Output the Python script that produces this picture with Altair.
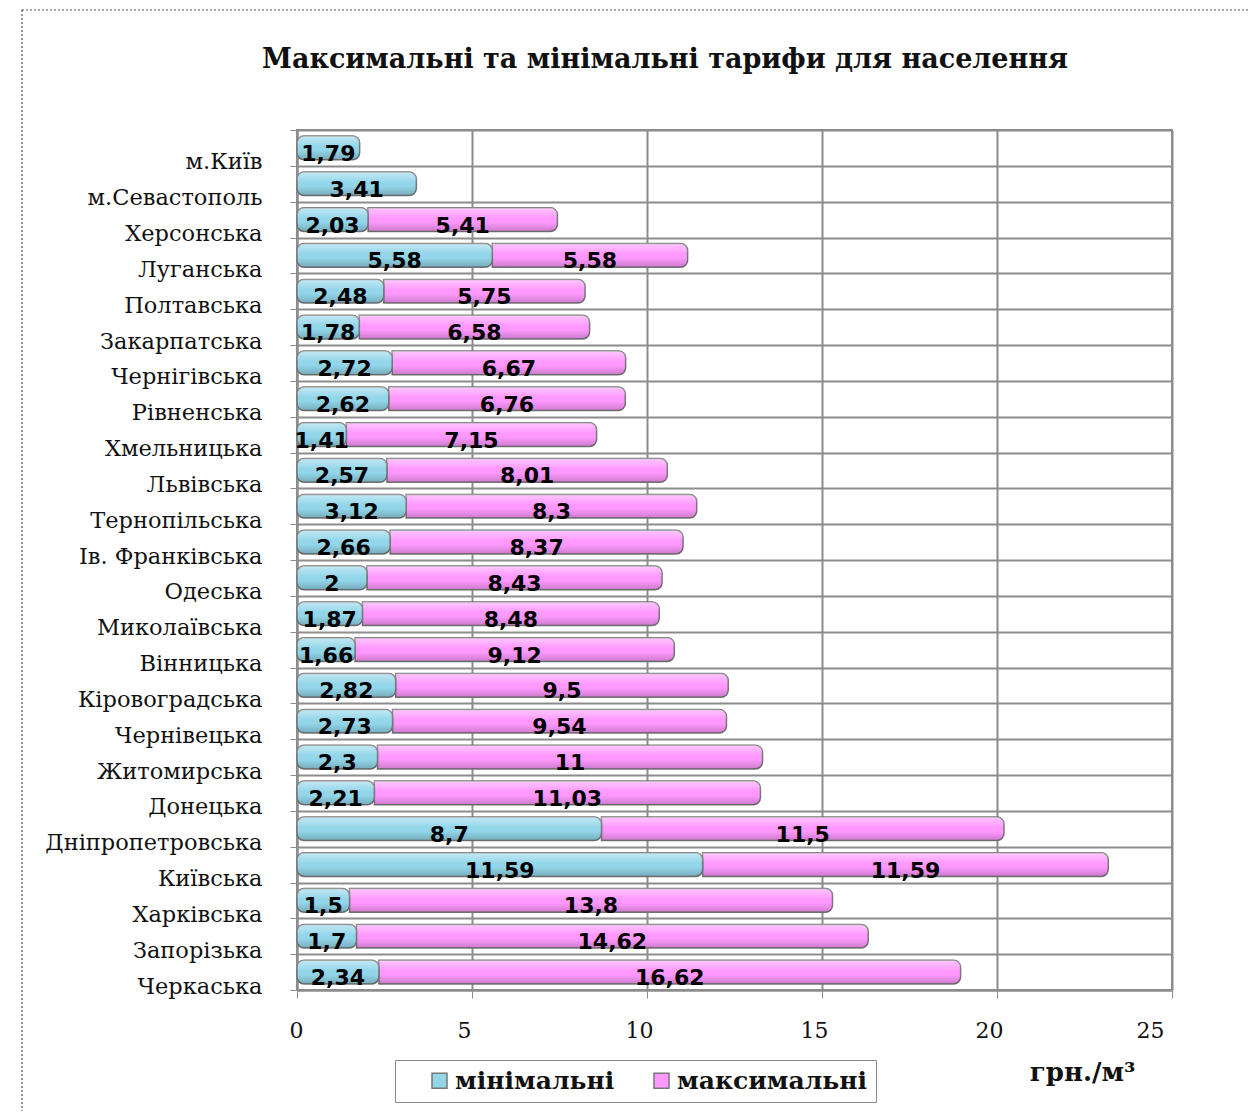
import altair as alt
import pandas as pd

regions = ["м.Київ", "м.Севастополь", "Херсонська", "Луганська", "Полтавська",
           "Закарпатська", "Чернігівська", "Рівненська", "Хмельницька", "Львівська",
           "Тернопільська", "Ів. Франківська", "Одеська", "Миколаївська", "Вінницька",
           "Кіровоградська", "Чернівецька", "Житомирська", "Донецька",
           "Дніпропетровська", "Київська", "Харківська", "Запорізька", "Черкаська"]
min_vals = [1.79, 3.41, 2.03, 5.58, 2.48, 1.78, 2.72, 2.62, 1.41, 2.57, 3.12, 2.66,
            2.0, 1.87, 1.66, 2.82, 2.73, 2.3, 2.21, 8.7, 11.59, 1.5, 1.7, 2.34]
max_vals = [None, None, 5.41, 5.58, 5.75, 6.58, 6.67, 6.76, 7.15, 8.01, 8.3, 8.37,
            8.43, 8.48, 9.12, 9.5, 9.54, 11.0, 11.03, 11.5, 11.59, 13.8, 14.62, 16.62]
x_ticks = [0, 5, 10, 15, 20, 25]
series = ["мінімальні", "максимальні"]
colors = ["#93D6EA", "#FF99FF"]
title_text = "Максимальні та мінімальні тарифи для населення"


def fmt(v):
    return f"{v:g}".replace(".", ",")


rows = []
for r, mn, mx in zip(regions, min_vals, max_vals):
    rows.append(dict(region=r, series=series[0], start=0.0, end=mn, label=fmt(mn)))
    if mx is not None:
        rows.append(dict(region=r, series=series[1], start=mn, end=mn + mx, label=fmt(mx)))
df = pd.DataFrame(rows)
df["mid"] = (df["start"] + df["end"]) / 2

W, H = 875, 860
GRAY = "#8c8c8c"
BAND = 0.66
R = 7

y_enc = alt.Y(
    "region:N", sort=regions,
    scale=alt.Scale(paddingInner=0, paddingOuter=0),
    axis=alt.Axis(title=None, grid=True, tickBand="extent", gridColor=GRAY, gridWidth=2,
                  domainColor=GRAY, domainWidth=2, tickColor=GRAY, tickSize=7,
                  labelOffset=14, labelPadding=28, labelFont="DejaVu Serif",
                  labelFontSize=22.5, labelColor="#111", labelLimit=400),
)
x_enc = alt.X(
    "start:Q", scale=alt.Scale(domain=[0, 25], nice=False),
    axis=alt.Axis(values=x_ticks, grid=True, gridColor=GRAY, gridWidth=2,
                  domainColor=GRAY, domainWidth=2, tickColor=GRAY, tickSize=8,
                  labelPadding=22, labelFont="DejaVu Serif", labelFontSize=22,
                  labelColor="#111", labelOffset=-8,
                  title="грн./м³", titleFont="DejaVu Serif", titleFontSize=26,
                  titleFontWeight="bold", titleColor="#111",
                  titleX=838, titleY=82, titleAlign="right", titleBaseline="middle"),
)
color_enc = alt.Color(
    "series:N", scale=alt.Scale(domain=series, range=colors),
    legend=alt.Legend(title=None, orient="none", legendX=98, legendY=930,
                      direction="horizontal", strokeColor="#888",
                      fillColor="white", padding=8, symbolOffset=24, labelOffset=3,
                      labelFont="DejaVu Serif", labelFontWeight="bold",
                      labelFontSize=25, labelColor="#111",
                      symbolType="square", symbolSize=225,
                      symbolStrokeColor="#777", symbolStrokeWidth=1.5,
                      columnPadding=10, labelLimit=300))

shade_fill = alt.LinearGradient(gradient="linear", x1=0, y1=0, x2=0, y2=1, stops=[
    alt.GradientStop(color="rgba(255,255,255,0.45)", offset=0),
    alt.GradientStop(color="rgba(255,255,255,0.0)", offset=0.45),
    alt.GradientStop(color="rgba(0,0,0,0.0)", offset=0.6),
    alt.GradientStop(color="rgba(0,0,0,0.2)", offset=1),
])

base = alt.Chart(df)
max_bars = base.transform_filter(alt.datum.series == series[1]).mark_bar(
    height={"band": BAND}, stroke="#777777", strokeWidth=1.5,
    cornerRadiusTopRight=R, cornerRadiusBottomRight=R).encode(
    y=y_enc, x=x_enc, x2="end:Q", color=color_enc)
max_shade = base.transform_filter(alt.datum.series == series[1]).mark_bar(
    height={"band": BAND}, fill=shade_fill,
    cornerRadiusTopRight=R, cornerRadiusBottomRight=R).encode(
    y=alt.Y("region:N", sort=regions), x="start:Q", x2="end:Q")
min_bars = base.transform_filter(alt.datum.series == series[0]).mark_bar(
    height={"band": BAND}, stroke="#777777", strokeWidth=1.5, cornerRadius=R).encode(
    y=alt.Y("region:N", sort=regions), x="start:Q", x2="end:Q", color=color_enc)
min_shade = base.transform_filter(alt.datum.series == series[0]).mark_bar(
    height={"band": BAND}, fill=shade_fill, cornerRadius=R).encode(
    y=alt.Y("region:N", sort=regions), x="start:Q", x2="end:Q")

labels = base.mark_text(font="DejaVu Sans", fontWeight="bold", fontSize=22,
                        dy=6, color="black").encode(
    y=alt.Y("region:N", sort=regions), x="mid:Q", text="label:N")

deco = pd.DataFrame({"t": [title_text]})
title = alt.Chart(deco).mark_text(
    font="DejaVu Serif", fontSize=27, fontWeight="bold", color="#111",
    align="center", baseline="alphabetic").encode(
    x=alt.value(368), y=alt.value(-62), text="t:N")

frame = alt.Chart(deco).mark_rect(
    filled=False, stroke="#555", strokeDash=[2, 2], strokeWidth=1.2).encode(
    x=alt.value(-275), x2=alt.value(1000), y=alt.value(-120), y2=alt.value(1000))

chart = alt.layer(frame, title, max_bars, max_shade, min_bars, min_shade, labels).properties(
    width=W, height=H,
    autosize=alt.AutoSizeParams(type="none"),
    padding={"left": 289, "top": 122, "right": 77, "bottom": 121},
    background="white",
).configure_view(stroke=GRAY, strokeWidth=2)

chart.save("out.html", embed_options={"renderer": "svg", "actions": False})
